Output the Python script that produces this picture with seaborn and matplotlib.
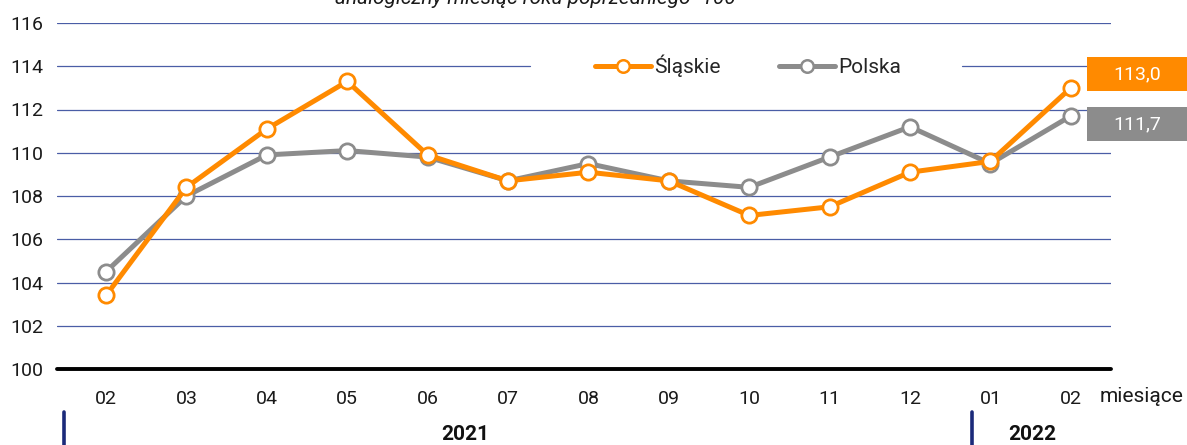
import matplotlib
matplotlib.use("Agg")
import matplotlib.pyplot as plt
import seaborn as sns
import pandas as pd
from matplotlib.patches import Rectangle
from matplotlib.lines import Line2D
import matplotlib.transforms as mtransforms

months = ["02", "03", "04", "05", "06", "07", "08", "09", "10", "11", "12", "01", "02"]
slaskie = [103.4, 108.4, 111.1, 113.3, 109.9, 108.7, 109.1, 108.7, 107.1, 107.5, 109.1, 109.6, 113.0]
polska = [104.5, 108.0, 109.9, 110.1, 109.8, 108.7, 109.5, 108.7, 108.4, 109.8, 111.2, 109.5, 111.7]
yticks = [100, 102, 104, 106, 108, 110, 112, 114, 116]
years = ["2021", "2022"]
subtitle = "analogiczny miesiąc roku poprzedniego=100"

ORANGE = "#FF8A00"
GREY = "#8C8C8C"
GRID = "#4A5DA6"
NAVY = "#1B2A7A"

sns.set_theme(style="white")
plt.rcParams["font.family"] = ["Roboto", "DejaVu Sans"]

fig = plt.figure(figsize=(11.87, 4.45), dpi=100)
W, H = 1187, 445
AXL, AXR, AXT, AXB = 57, 1111, 23, 369
ax = fig.add_axes([AXL / W, 1 - AXB / H, (AXR - AXL) / W, (AXB - AXT) / H])

df = pd.DataFrame({"idx": list(range(len(months))) * 2,
                   "value": slaskie + polska,
                   "series": ["Śląskie"] * len(months) + ["Polska"] * len(months)})

for name, col in [("Polska", GREY), ("Śląskie", ORANGE)]:
    sub = df[df["series"] == name]
    sns.lineplot(data=sub, x="idx", y="value", ax=ax, color=col, linewidth=3.6,
                 marker="o", markersize=11, markerfacecolor="white",
                 markeredgecolor=col, markeredgewidth=2.0, zorder=3 if name == "Śląskie" else 2)

ax.set_xlim(-0.61, 12.5)
ax.set_ylim(100, 116)
ax.set_yticks(yticks)
ax.set_yticklabels([str(t) for t in yticks])
ax.set_xticks(range(len(months)))
ax.set_xticklabels(months)
ax.set_xlabel("")
ax.set_ylabel("")
gap_l = (530 - AXL) / (AXR - AXL)
gap_r = (962 - AXL) / (AXR - AXL)
for t in yticks[1:]:
    if t == 114:
        ax.axhline(t, xmin=0, xmax=gap_l, color=GRID, linewidth=0.9, zorder=1)
        ax.axhline(t, xmin=gap_r, xmax=1, color=GRID, linewidth=0.9, zorder=1)
    else:
        ax.axhline(t, color=GRID, linewidth=0.9, zorder=1)
ax.axhline(100, color="black", linewidth=2.8, zorder=4, clip_on=False)
for s in ax.spines.values():
    s.set_visible(False)
ax.tick_params(axis="both", length=0, labelsize=14, colors="#1a1a1a")
ax.tick_params(axis="x", pad=15)
ax.tick_params(axis="y", pad=10)
ax.grid(False)

handles = [Line2D([], [], color=ORANGE, linewidth=3.6, marker="o", markersize=9,
                  markerfacecolor="white", markeredgecolor=ORANGE, markeredgewidth=1.8),
           Line2D([], [], color=GREY, linewidth=3.6, marker="o", markersize=9,
                  markerfacecolor="white", markeredgecolor=GREY, markeredgewidth=1.8)]
leg = ax.legend(handles, ["Śląskie", "Polska"], ncol=2, loc="center",
                bbox_to_anchor=((748 - AXL) / (AXR - AXL), 1 - (66 - AXT) / (AXB - AXT)),
                frameon=False, fontsize=15, handlelength=2.7, handletextpad=0.15,
                columnspacing=2.8, borderpad=0.2, borderaxespad=0)
leg.set_zorder(5)

# value boxes on the right
for cy, txt, col in [(74, "113,0", ORANGE), (124, "111,7", GREY)]:
    fig.patches.append(Rectangle((1087 / W, 1 - (cy + 17) / H), 100 / W, 34 / H,
                                 transform=fig.transFigure, facecolor=col, edgecolor="none"))
    fig.text(1137 / W, 1 - cy / H, txt, ha="center", va="center", color="white", fontsize=14)

trans = mtransforms.blended_transform_factory(ax.transData, fig.transFigure)
fig.text(1100 / W, 1 - 396 / H, "miesiące", ha="left", va="center", fontsize=15, color="#1a1a1a")

for xd in [-0.52, 10.77]:
    ax.add_line(Line2D([xd, xd], [0, 1 - 412 / H], transform=trans, color=NAVY,
                       linewidth=2.6, clip_on=False))
for xd, yr in [(4.47, years[0]), (11.52, years[1])]:
    ax.text(xd, 1 - 435 / H, yr, transform=trans, ha="center", va="center",
            fontsize=15, fontweight="bold", color="#111111")

fig.text(535 / W, 1 - 4 / H, subtitle, ha="center", va="baseline", fontsize=15,
         fontstyle="italic", color="#1a1a1a")

fig.savefig("out.png", dpi=100)
